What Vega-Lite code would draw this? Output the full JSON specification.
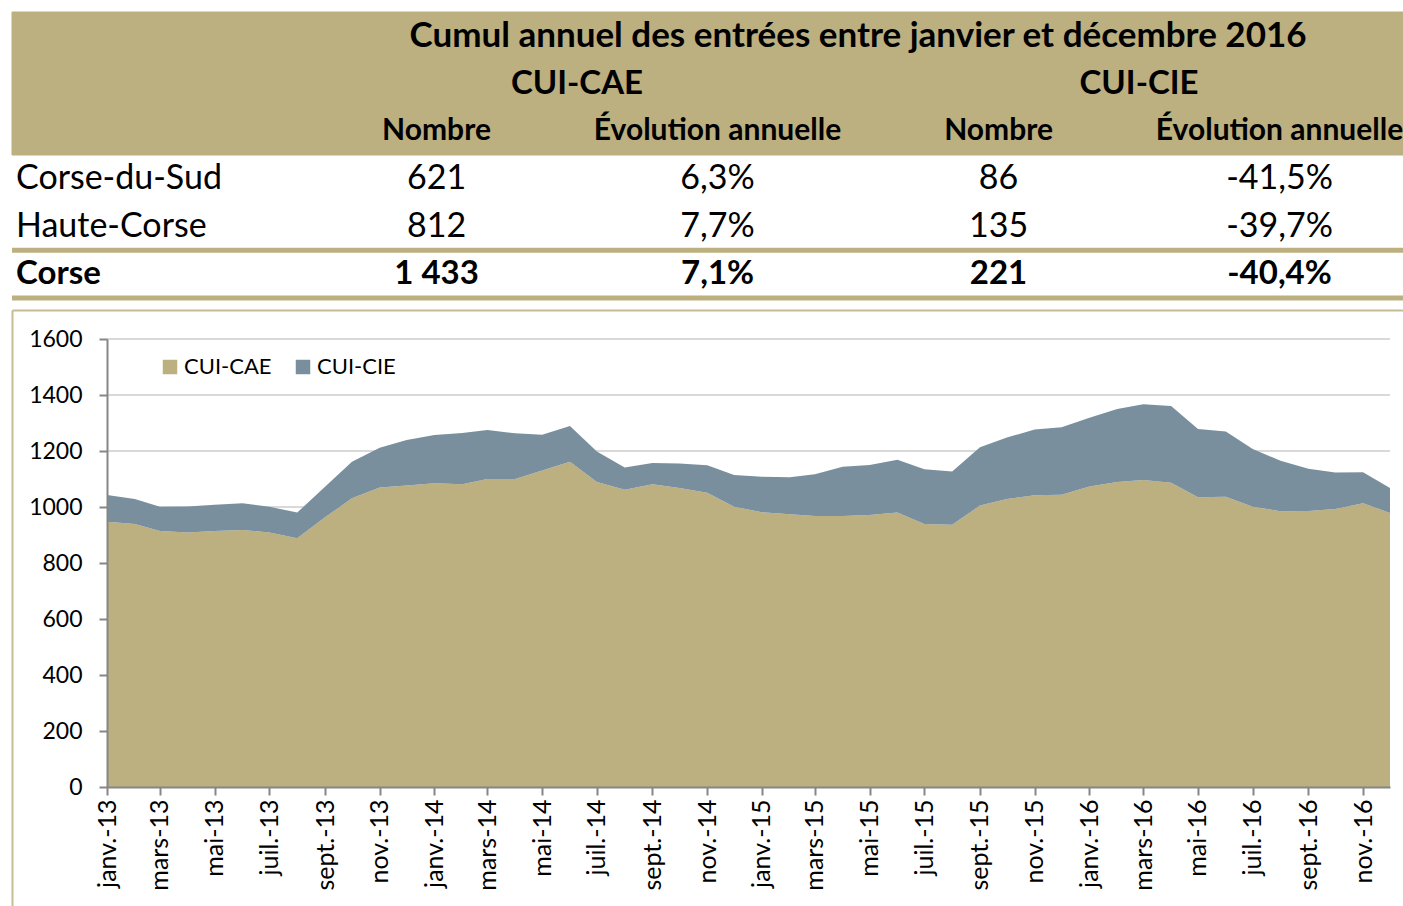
{
  "$schema": "https://vega.github.io/schema/vega-lite/v6.json",
  "padding": {"left": 9, "top": 11, "right": 0, "bottom": 0},
  "background": "white",
  "spacing": 12,
  "bounds": "flush",
  "resolve": {"scale": {"color": "independent"}, "legend": {"color": "independent"}},
  "config": {
    "font": "Lato",
    "view": {"stroke": null},
    "locale": {
      "time": {
        "dateTime": "%A %e %B %Y à %X",
        "date": "%d/%m/%Y",
        "time": "%H:%M:%S",
        "periods": ["AM", "PM"],
        "days": ["dimanche", "lundi", "mardi", "mercredi", "jeudi", "vendredi", "samedi"],
        "shortDays": ["dim.", "lun.", "mar.", "mer.", "jeu.", "ven.", "sam."],
        "months": ["janvier", "février", "mars", "avril", "mai", "juin", "juillet", "août", "septembre", "octobre", "novembre", "décembre"],
        "shortMonths": ["janv.", "févr.", "mars", "avr.", "mai", "juin", "juil.", "août", "sept.", "oct.", "nov.", "déc."]
      }
    }
  },
  "datasets": {
    "table": [
      {"row": 1, "col": 3, "text": "Cumul annuel des entrées entre janvier et décembre 2016"},
      {"row": 2, "col": 2, "text": "CUI-CAE"},
      {"row": 2, "col": 4, "text": "CUI-CIE"},
      {"row": 3, "col": 1.5, "text": "Nombre"},
      {"row": 3, "col": 2.5, "text": "Évolution annuelle"},
      {"row": 3, "col": 3.5, "text": "Nombre"},
      {"row": 3, "col": 4.5, "text": "Évolution annuelle"},
      {"row": 4, "col": 0, "text": "Corse-du-Sud"},
      {"row": 4, "col": 1.5, "text": "621"},
      {"row": 4, "col": 2.5, "text": "6,3%"},
      {"row": 4, "col": 3.5, "text": "86"},
      {"row": 4, "col": 4.5, "text": "-41,5%"},
      {"row": 5, "col": 0, "text": "Haute-Corse"},
      {"row": 5, "col": 1.5, "text": "812"},
      {"row": 5, "col": 2.5, "text": "7,7%"},
      {"row": 5, "col": 3.5, "text": "135"},
      {"row": 5, "col": 4.5, "text": "-39,7%"},
      {"row": 6, "col": 0, "text": "Corse"},
      {"row": 6, "col": 1.5, "text": "1 433"},
      {"row": 6, "col": 2.5, "text": "7,1%"},
      {"row": 6, "col": 3.5, "text": "221"},
      {"row": 6, "col": 4.5, "text": "-40,4%"}
    ],
    "headerRows": [{"row": 1}, {"row": 2}, {"row": 3}],
    "ruleRows": [{"row": 5}, {"row": 6}],
    "grid": [{"v": 200}, {"v": 400}, {"v": 600}, {"v": 800}, {"v": 1000}, {"v": 1200}, {"v": 1400}, {"v": 1600}],
    "series": [
      {"mois": "2013-01-01", "CUI-CAE": 947, "CUI-CIE": 96},
      {"mois": "2013-02-01", "CUI-CAE": 939, "CUI-CIE": 90},
      {"mois": "2013-03-01", "CUI-CAE": 914, "CUI-CIE": 87},
      {"mois": "2013-04-01", "CUI-CAE": 909, "CUI-CIE": 93},
      {"mois": "2013-05-01", "CUI-CAE": 914, "CUI-CIE": 94},
      {"mois": "2013-06-01", "CUI-CAE": 918, "CUI-CIE": 95},
      {"mois": "2013-07-01", "CUI-CAE": 909, "CUI-CIE": 92},
      {"mois": "2013-08-01", "CUI-CAE": 888, "CUI-CIE": 92},
      {"mois": "2013-09-01", "CUI-CAE": 963, "CUI-CIE": 109},
      {"mois": "2013-10-01", "CUI-CAE": 1031, "CUI-CIE": 131},
      {"mois": "2013-11-01", "CUI-CAE": 1070, "CUI-CIE": 142},
      {"mois": "2013-12-01", "CUI-CAE": 1077, "CUI-CIE": 162},
      {"mois": "2014-01-01", "CUI-CAE": 1085, "CUI-CIE": 172},
      {"mois": "2014-02-01", "CUI-CAE": 1081, "CUI-CIE": 183},
      {"mois": "2014-03-01", "CUI-CAE": 1100, "CUI-CIE": 175},
      {"mois": "2014-04-01", "CUI-CAE": 1100, "CUI-CIE": 163},
      {"mois": "2014-05-01", "CUI-CAE": 1130, "CUI-CIE": 128},
      {"mois": "2014-06-01", "CUI-CAE": 1162, "CUI-CIE": 127},
      {"mois": "2014-07-01", "CUI-CAE": 1089, "CUI-CIE": 109},
      {"mois": "2014-08-01", "CUI-CAE": 1062, "CUI-CIE": 79},
      {"mois": "2014-09-01", "CUI-CAE": 1081, "CUI-CIE": 76},
      {"mois": "2014-10-01", "CUI-CAE": 1068, "CUI-CIE": 87},
      {"mois": "2014-11-01", "CUI-CAE": 1051, "CUI-CIE": 98},
      {"mois": "2014-12-01", "CUI-CAE": 1001, "CUI-CIE": 113},
      {"mois": "2015-01-01", "CUI-CAE": 981, "CUI-CIE": 127},
      {"mois": "2015-02-01", "CUI-CAE": 974, "CUI-CIE": 132},
      {"mois": "2015-03-01", "CUI-CAE": 968, "CUI-CIE": 149},
      {"mois": "2015-04-01", "CUI-CAE": 968, "CUI-CIE": 176},
      {"mois": "2015-05-01", "CUI-CAE": 971, "CUI-CIE": 179},
      {"mois": "2015-06-01", "CUI-CAE": 980, "CUI-CIE": 189},
      {"mois": "2015-07-01", "CUI-CAE": 939, "CUI-CIE": 196},
      {"mois": "2015-08-01", "CUI-CAE": 937, "CUI-CIE": 190},
      {"mois": "2015-09-01", "CUI-CAE": 1005, "CUI-CIE": 208},
      {"mois": "2015-10-01", "CUI-CAE": 1029, "CUI-CIE": 219},
      {"mois": "2015-11-01", "CUI-CAE": 1042, "CUI-CIE": 235},
      {"mois": "2015-12-01", "CUI-CAE": 1044, "CUI-CIE": 241},
      {"mois": "2016-01-01", "CUI-CAE": 1073, "CUI-CIE": 246},
      {"mois": "2016-02-01", "CUI-CAE": 1089, "CUI-CIE": 261},
      {"mois": "2016-03-01", "CUI-CAE": 1096, "CUI-CIE": 271},
      {"mois": "2016-04-01", "CUI-CAE": 1087, "CUI-CIE": 274},
      {"mois": "2016-05-01", "CUI-CAE": 1035, "CUI-CIE": 244},
      {"mois": "2016-06-01", "CUI-CAE": 1037, "CUI-CIE": 233},
      {"mois": "2016-07-01", "CUI-CAE": 1001, "CUI-CIE": 206},
      {"mois": "2016-08-01", "CUI-CAE": 985, "CUI-CIE": 180},
      {"mois": "2016-09-01", "CUI-CAE": 986, "CUI-CIE": 151},
      {"mois": "2016-10-01", "CUI-CAE": 993, "CUI-CIE": 130},
      {"mois": "2016-11-01", "CUI-CAE": 1013, "CUI-CIE": 111},
      {"mois": "2016-12-01", "CUI-CAE": 979, "CUI-CIE": 89}
    ]
  },
  "vconcat": [
    {
      "width": 1394,
      "height": 286,
      "data": {"name": "table"},
      "encoding": {
        "y": {"field": "row", "type": "ordinal", "scale": {"domain": [1, 2, 3, 4, 5, 6], "paddingInner": 0, "paddingOuter": 0}, "axis": null}
      },
      "layer": [
        {
          "data": {"name": "headerRows"},
          "mark": {"type": "rect", "color": "#BCAF80", "stroke": "#BCAF80", "strokeWidth": 1},
          "encoding": {"y": {"field": "row", "type": "ordinal"}}
        },
        {
          "data": {"name": "ruleRows"},
          "mark": {"type": "rule", "color": "#BCAF80", "strokeWidth": 5},
          "encoding": {"y": {"field": "row", "type": "ordinal", "bandPosition": 1}}
        },
        {
          "transform": [{"filter": "datum.row == 1"}],
          "mark": {"type": "text", "fontSize": 35, "fontWeight": "bold", "align": "center", "baseline": "middle", "color": "#000"},
          "encoding": {
            "x": {"field": "col", "type": "quantitative", "scale": {"domain": [-0.0107, 4.95]}, "axis": null},
            "text": {"field": "text"}
          }
        },
        {
          "transform": [{"filter": "datum.row == 2"}],
          "mark": {"type": "text", "fontSize": 33, "fontWeight": "bold", "align": "center", "baseline": "middle", "color": "#000"},
          "encoding": {
            "x": {"field": "col", "type": "quantitative", "scale": {"domain": [-0.0107, 4.95]}, "axis": null},
            "text": {"field": "text"}
          }
        },
        {
          "transform": [{"filter": "datum.row == 3"}],
          "mark": {"type": "text", "fontSize": 30, "fontWeight": "bold", "align": "center", "baseline": "middle", "color": "#000", "clip": true},
          "encoding": {
            "x": {"field": "col", "type": "quantitative", "scale": {"domain": [-0.0107, 4.95]}, "axis": null},
            "text": {"field": "text"}
          }
        },
        {
          "transform": [{"filter": "datum.row >= 4 && datum.row <= 5 && datum.col > 0"}],
          "mark": {"type": "text", "fontSize": 34, "align": "center", "baseline": "middle", "color": "#000"},
          "encoding": {
            "x": {"field": "col", "type": "quantitative", "scale": {"domain": [-0.0107, 4.95]}, "axis": null},
            "text": {"field": "text"}
          }
        },
        {
          "transform": [{"filter": "datum.row >= 4 && datum.row <= 5 && datum.col == 0"}],
          "mark": {"type": "text", "fontSize": 34, "align": "left", "dx": 1, "baseline": "middle", "color": "#000"},
          "encoding": {
            "x": {"field": "col", "type": "quantitative", "scale": {"domain": [-0.0107, 4.95]}, "axis": null},
            "text": {"field": "text"}
          }
        },
        {
          "transform": [{"filter": "datum.row == 6 && datum.col > 0"}],
          "mark": {"type": "text", "fontSize": 33, "fontWeight": "bold", "align": "center", "baseline": "middle", "color": "#000"},
          "encoding": {
            "x": {"field": "col", "type": "quantitative", "scale": {"domain": [-0.0107, 4.95]}, "axis": null},
            "text": {"field": "text"}
          }
        },
        {
          "transform": [{"filter": "datum.row == 6 && datum.col == 0"}],
          "mark": {"type": "text", "fontSize": 33, "fontWeight": "bold", "align": "left", "dx": 1, "baseline": "middle", "color": "#000"},
          "encoding": {
            "x": {"field": "col", "type": "quantitative", "scale": {"domain": [-0.0107, 4.95]}, "axis": null},
            "text": {"field": "text"}
          }
        }
      ]
    },
    {
      "width": 1391,
      "height": 596,
      "layer": [
        {
          "data": {"name": "grid"},
          "mark": {"type": "point", "opacity": 0},
          "encoding": {
            "x": {"field": "v", "type": "quantitative", "axis": {"orient": "top", "labels": false, "ticks": false, "grid": false, "title": null, "domainColor": "#C8BC92", "domainWidth": 2}},
            "y": {"field": "v", "type": "quantitative", "axis": {"orient": "left", "labels": false, "ticks": false, "grid": false, "title": null, "domainColor": "#C8BC92", "domainWidth": 2}}
          }
        },
        {
          "layer": [
            {
              "data": {"name": "grid"},
              "mark": {"type": "rule", "color": "#D9D9D9", "strokeWidth": 2},
              "encoding": {
                "y": {
                  "field": "v", "type": "quantitative",
                  "scale": {"domain": [0, 1600], "range": [477, 29], "nice": false},
                  "axis": {"orient": "left", "offset": -95, "zindex": 1, "title": null, "grid": false, "values": [0, 200, 400, 600, 800, 1000, 1200, 1400, 1600], "format": "d", "domainColor": "#868686", "domainWidth": 2, "tickColor": "#868686", "tickWidth": 2, "tickSize": 8, "labelFontSize": 23, "labelPadding": 17, "labelColor": "#000"}
                },
                "x": {
                  "datum": {"year": 2013, "month": 1, "date": 1, "utc": true}, "type": "temporal",
                  "scale": {"type": "utc", "domain": [{"year": 2013, "month": 1, "date": 1, "utc": true}, {"year": 2016, "month": 12, "date": 1, "utc": true}], "range": [95, 1378]},
                  "axis": {"orient": "bottom", "offset": -119, "zindex": 1, "title": null, "grid": false, "domainColor": "#868686", "domainWidth": 2, "tickColor": "#868686", "tickWidth": 2, "tickSize": 8, "tickCount": {"interval": "month", "step": 2}, "format": "%b-%y", "labelAngle": 270, "labelFontSize": 25, "labelPadding": 4, "labelColor": "#000", "labelOverlap": false, "labelFlush": false, "labelBound": false}
                },
                "x2": {"datum": {"year": 2016, "month": 12, "date": 1, "utc": true}}
              }
            },
            {
              "data": {"name": "series"},
              "transform": [{"fold": ["CUI-CAE", "CUI-CIE"], "as": ["serie", "valeur"]}],
              "mark": {"type": "area", "interpolate": "linear"},
              "encoding": {
                "x": {
                  "field": "mois", "type": "temporal",
                  "scale": {"type": "utc", "domain": [{"year": 2013, "month": 1, "date": 1, "utc": true}, {"year": 2016, "month": 12, "date": 1, "utc": true}], "range": [95, 1378]},
                  "axis": {"orient": "bottom", "offset": -119, "zindex": 1, "title": null, "grid": false, "domainColor": "#868686", "domainWidth": 2, "tickColor": "#868686", "tickWidth": 2, "tickSize": 8, "tickCount": {"interval": "month", "step": 2}, "format": "%b-%y", "labelAngle": 270, "labelFontSize": 25, "labelPadding": 4, "labelColor": "#000", "labelOverlap": false, "labelFlush": false, "labelBound": false}
                },
                "y": {
                  "field": "valeur", "type": "quantitative", "stack": "zero",
                  "scale": {"domain": [0, 1600], "range": [477, 29], "nice": false},
                  "axis": {"orient": "left", "offset": -95, "zindex": 1, "title": null, "grid": false, "values": [0, 200, 400, 600, 800, 1000, 1200, 1400, 1600], "format": "d", "domainColor": "#868686", "domainWidth": 2, "tickColor": "#868686", "tickWidth": 2, "tickSize": 8, "labelFontSize": 23, "labelPadding": 17, "labelColor": "#000"}
                },
                "order": {"field": "serie", "type": "nominal", "sort": "ascending"},
                "color": {
                  "field": "serie", "type": "nominal",
                  "scale": {"domain": ["CUI-CAE", "CUI-CIE"], "range": ["#BCAF80", "#798F9E"]},
                  "legend": {"orient": "none", "legendX": 147, "legendY": 46, "direction": "horizontal", "title": null, "symbolType": "square", "symbolSize": 210, "symbolStrokeWidth": 0, "symbolOpacity": 1, "labelFontSize": 22, "labelColor": "#000", "labelOffset": 3, "columnPadding": 20, "padding": 0}
                }
              }
            }
          ]
        }
      ],
      "resolve": {"scale": {"x": "independent", "y": "independent"}, "axis": {"x": "independent", "y": "independent"}}
    }
  ]
}
